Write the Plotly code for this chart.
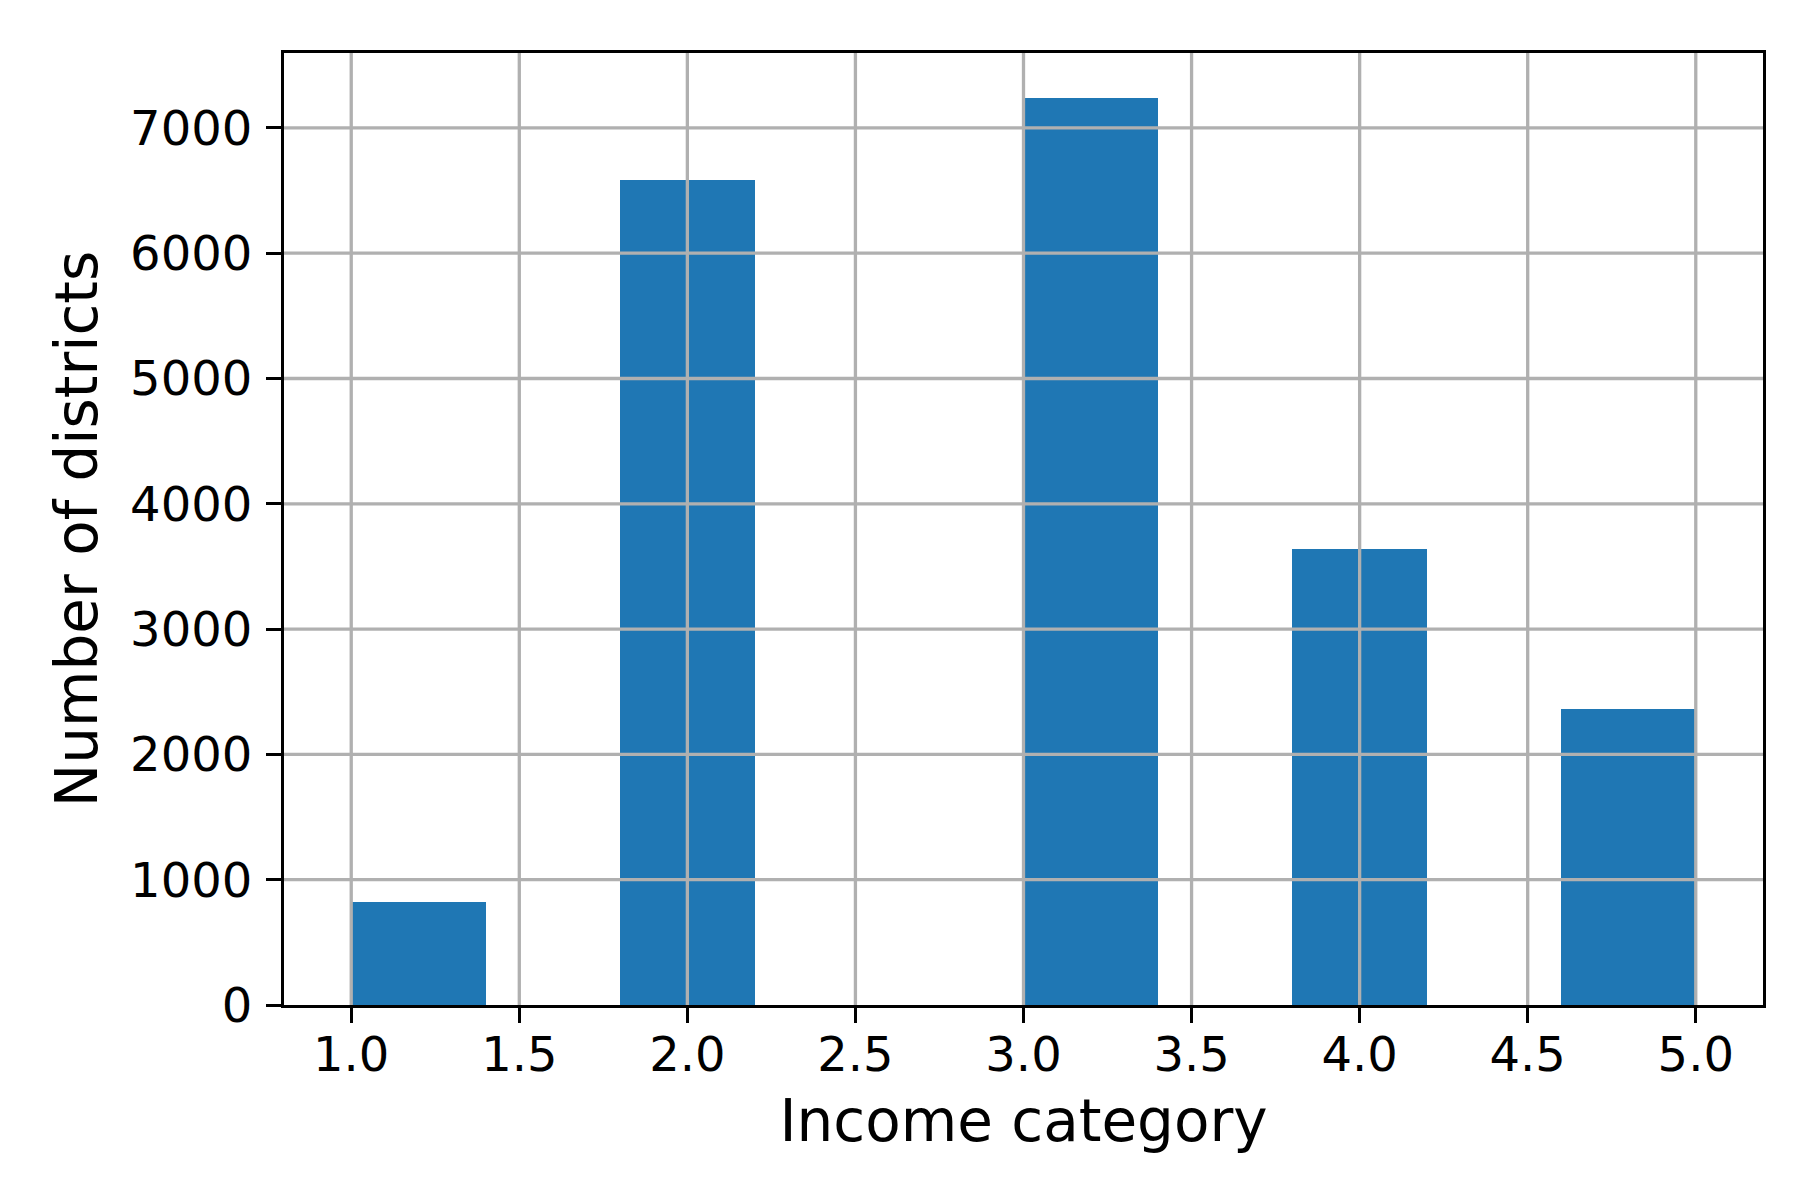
import numpy as np
import plotly.graph_objects as go

# income categories and number of districts in each
income_cat = [1, 2, 3, 4, 5]
district_counts = [822, 6581, 7236, 3639, 2362]

x_ticks = [1.0, 1.5, 2.0, 2.5, 3.0, 3.5, 4.0, 4.5, 5.0]
y_ticks = [0, 1000, 2000, 3000, 4000, 5000, 6000, 7000]

# same binning as pandas .hist() -> 10 bins over the data range
hist, edges = np.histogram(income_cat, bins=10, weights=district_counts)
centers = (edges[:-1] + edges[1:]) / 2
bin_width = edges[1] - edges[0]

FONT = "DejaVu Sans"
GRID = "#b0b0b0"

fig = go.Figure()
fig.add_trace(go.Bar(
    x=centers,
    y=hist,
    width=bin_width,
    marker=dict(color="#1f77b4", line=dict(width=0)),
    hoverinfo="x+y",
))

# matplotlib draws the grid above the bars, so use shapes instead of gridlines
shapes = []
for xv in x_ticks:
    shapes.append(dict(type="line", xref="x", yref="paper", x0=xv, x1=xv, y0=0, y1=1,
                       line=dict(color=GRID, width=3.3), layer="above"))
for yv in y_ticks[1:]:
    shapes.append(dict(type="line", xref="paper", yref="y", x0=0, x1=1, y0=yv, y1=yv,
                       line=dict(color=GRID, width=3.3), layer="above"))

x_pad = (edges[-1] - edges[0]) * 0.05
y_top = max(hist) * 1.05

fig.update_layout(
    width=1800,
    height=1200,
    margin=dict(l=276, r=45, t=45, b=203),
    plot_bgcolor="white",
    paper_bgcolor="white",
    font=dict(family=FONT, size=48, color="black"),
    showlegend=False,
    bargap=0,
    shapes=shapes,
    xaxis=dict(
        range=[edges[0] - x_pad, edges[-1] + x_pad],
        tickvals=x_ticks,
        tickformat=".1f",
        showgrid=False,
        zeroline=False,
        showline=True,
        linecolor="black",
        linewidth=3.3,
        mirror=True,
        ticks="outside",
        ticklen=15,
        tickwidth=3.3,
        tickcolor="black",
        ticklabelstandoff=-10,
        tickfont=dict(size=48),
        title=dict(text="Income category", font=dict(size=58), standoff=20),
        layer="above traces",
    ),
    yaxis=dict(
        range=[0, y_top],
        tickvals=y_ticks,
        tickformat="d",
        showgrid=False,
        zeroline=False,
        showline=True,
        linecolor="black",
        linewidth=3.3,
        mirror=True,
        ticks="outside",
        ticklen=15,
        tickwidth=3.3,
        tickcolor="black",
        ticklabelstandoff=4,
        tickfont=dict(size=48),
        title=dict(text="Number of districts", font=dict(size=58), standoff=14),
        layer="above traces",
    ),
)

fig.write_html("out.html")
